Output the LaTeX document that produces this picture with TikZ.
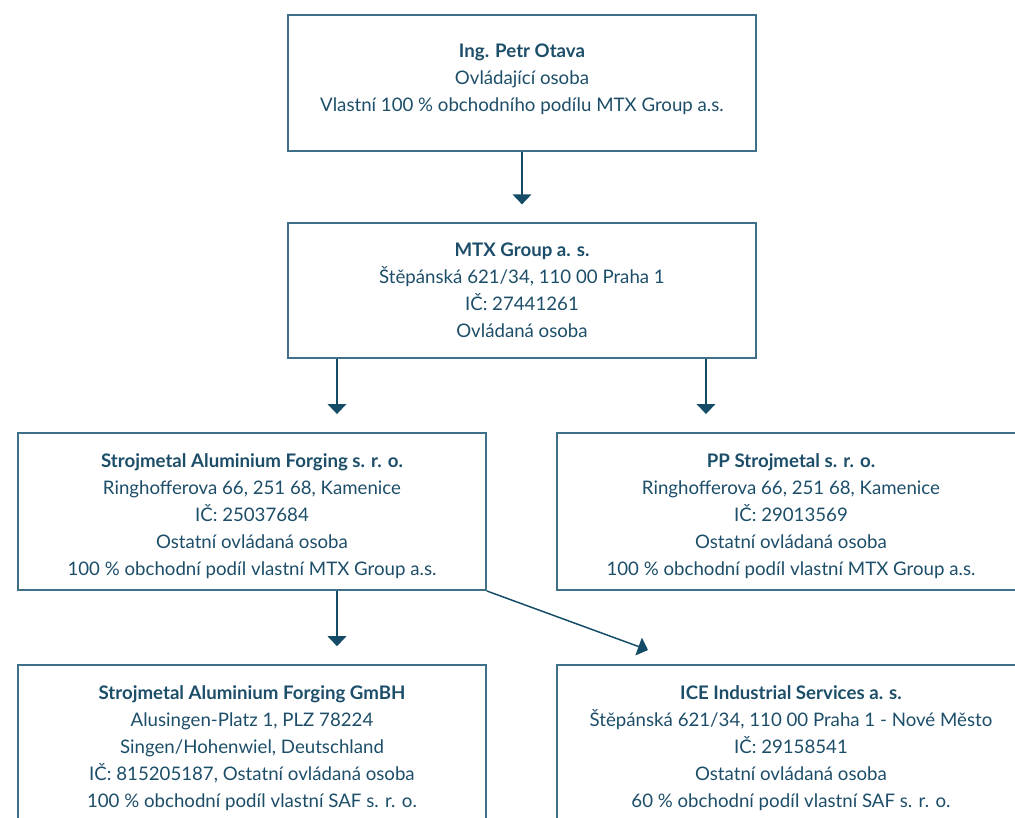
\documentclass[tikz,border=0pt]{standalone}
\usepackage{fontspec}
\setmainfont{Lato}
\usetikzlibrary{arrows.meta,positioning}
\definecolor{boxline}{HTML}{3F7088}
\definecolor{boxtext}{HTML}{1D4E69}
\definecolor{arrowc}{HTML}{144B66}
\begin{document}
\begin{tikzpicture}[x=0.75pt,y=-0.75pt]
  \tikzset{
    entity/.style={rectangle, draw=boxline, line width=1.2pt, text=boxtext,
      minimum width=351pt, align=center, inner sep=0pt,
      font=\fontsize{14}{20.3}\selectfont},
    arr/.style={draw=arrowc, line width=1.1pt,
      -{Triangle[width=14pt,length=7.5pt]}, shorten >=13.5pt}
  }
  \useasboundingbox (0,0) rectangle (1015,818);
  % owner and holding
  \node [entity, minimum height=102pt] (owner) at (522,83)
    {\textbf{Ing. Petr Otava}\\Ovládající osoba\\Vlastní 100 \% obchodního podílu MTX Group a.s.\\[-12.8pt]\mbox{}};
  \node [entity, minimum height=101pt] (mtx) at (522,290.5)
    {\textbf{MTX Group a. s.}\\Štěpánská 621/34, 110 00 Praha 1\\IČ: 27441261\\Ovládaná osoba};
  % subsidiaries
  \node [entity, minimum height=118pt] (saf) at (252,511.5)
    {\textbf{Strojmetal Aluminium Forging s. r. o.}\\Ringhofferova 66, 251 68, Kamenice\\IČ: 25037684\\Ostatní ovládaná osoba\\100 \% obchodní podíl vlastní MTX Group a.s.\\[-24.8pt]\mbox{}};
  \node [entity, minimum height=118pt] (pp) at (791,511.5)
    {\textbf{PP Strojmetal s. r. o.}\\Ringhofferova 66, 251 68, Kamenice\\IČ: 29013569\\Ostatní ovládaná osoba\\100 \% obchodní podíl vlastní MTX Group a.s.\\[-24.8pt]\mbox{}};
  \node [entity, minimum height=120pt] (gmbh) at (252,745)
    {\textbf{Strojmetal Aluminium Forging GmBH}\\Alusingen-Platz 1, PLZ 78224\\Singen/Hohenwiel, Deutschland\\IČ: 815205187, Ostatní ovládaná osoba\\100 \% obchodní podíl vlastní SAF s. r. o.\\[-23pt]\mbox{}};
  \node [entity, minimum height=120pt] (ice) at (791,745)
    {\textbf{ICE Industrial Services a. s.}\\Štěpánská 621/34, 110 00 Praha 1 - Nové Město\\IČ: 29158541\\Ostatní ovládaná osoba\\60 \% obchodní podíl vlastní SAF s. r. o.\\[-23pt]\mbox{}};
  \coordinate (icetip) at (648,650);
  % connectors
  \draw [arr] (owner) -- (mtx);
  \draw [arr] (mtx.south -| 337,0) -- (saf.north -| 337,0);
  \draw [arr] (mtx.south -| 706,0) -- (pp.north -| 706,0);
  \draw [arr] (saf.south -| 337,0) -- (gmbh.north -| 337,0);
  \draw [arr, shorten >=0pt] (saf.south east) -- (icetip);
\end{tikzpicture}
\end{document}
